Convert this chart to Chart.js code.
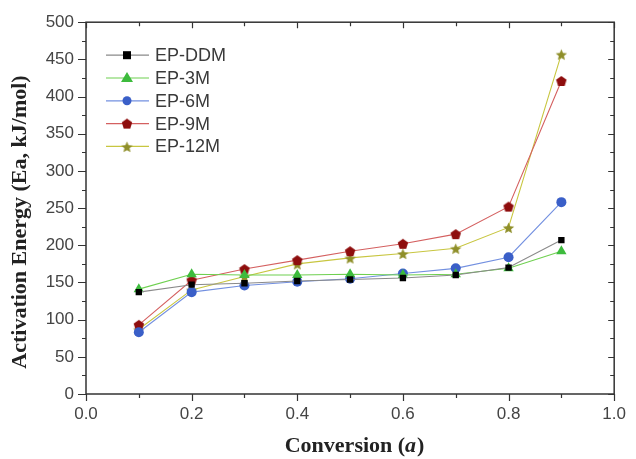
<!DOCTYPE html>
<html>
<head>
<meta charset="utf-8">
<script src="https://cdn.jsdelivr.net/npm/chart.js@4"></script>
<style>
  html, body { margin: 0; padding: 0; background: #fff; }
  #wrap { width: 636px; height: 459px; }
</style>
</head>
<body>
<div id="wrap"><canvas id="chart" width="636" height="459"></canvas></div>
<script>
// conversion values (x)
const conversion = [0.1, 0.2, 0.3, 0.4, 0.5, 0.6, 0.7, 0.8, 0.9];

// activation energy, kJ/mol
const epDDM = [137, 147, 149, 152, 154, 156, 160, 170, 207];
const ep3M  = [141, 161, 160, 160, 161, 160, 161, 169, 192];
const ep6M  = [83, 137, 146, 151, 155, 162, 169, 184, 258];
const ep9M  = [93, 153, 168, 180, 192, 202, 215, 252, 421];
const ep12M = [87, 140, 158, 175, 183, 189, 196, 224, 457];

const seriesNames = ["EP-DDM", "EP-3M", "EP-6M", "EP-9M", "EP-12M"];

const xTicks = [0.0, 0.2, 0.4, 0.6, 0.8, 1.0];
const yTicks = [0, 50, 100, 150, 200, 250, 300, 350, 400, 450, 500];

const yTitle = "Activation Energy (Ea, kJ/mol)";

// little canvases for the marker shapes chart.js doesn't have
function shapeCanvas(kind, color, size) {
    const c = document.createElement("canvas");
    c.width = size; c.height = size;
    const g = c.getContext("2d");
    const cx = size / 2, cy = size / 2, r = size / 2 - 0.5;
    g.fillStyle = color;
    g.beginPath();
    if (kind === "pentagon") {
        for (let i = 0; i < 5; i++) {
            const a = -Math.PI / 2 + i * 2 * Math.PI / 5;
            g.lineTo(cx + r * Math.cos(a), cy + 0.5 + r * Math.sin(a));
        }
    } else {
        for (let i = 0; i < 10; i++) {
            const a = -Math.PI / 2 + i * Math.PI / 5;
            const rr = i % 2 === 0 ? r : r * 0.45;
            g.lineTo(cx + rr * Math.cos(a), cy + 1 + rr * Math.sin(a));
        }
    }
    g.closePath();
    g.fill();
    return c;
}

const pentagon = shapeCanvas("pentagon", "#8e0d0d", 12);
const star = shapeCanvas("star", "#8f8f2a", 13);

function pts(vals) {
    return conversion.map((x, i) => ({ x: x, y: vals[i] }));
}

const datasets = [
    { label: seriesNames[0], data: pts(epDDM), borderColor: "#8a8a8a", backgroundColor: "#000000",
      pointStyle: "rect", pointRadius: 4.5 },
    { label: seriesNames[1], data: pts(ep3M), borderColor: "#6fd050", backgroundColor: "#3dbb3d",
      pointStyle: "triangle", pointRadius: 6 },
    { label: seriesNames[2], data: pts(ep6M), borderColor: "#7390e0", backgroundColor: "#3a5fc8",
      pointStyle: "circle", pointRadius: 5 },
    { label: seriesNames[3], data: pts(ep9M), borderColor: "#d46060", backgroundColor: "#8e0d0d",
      pointStyle: pentagon, pointRadius: 6 },
    { label: seriesNames[4], data: pts(ep12M), borderColor: "#c8c640", backgroundColor: "#8f8f2a",
      pointStyle: star, pointRadius: 6 }
];
datasets.forEach(d => {
    d.borderWidth = 1.1;
    d.pointBorderWidth = 0;
    d.pointBorderColor = d.backgroundColor;
    d.tension = 0;
});

// frame, inward ticks on top/right, minor ticks, legend, axis titles
const framePlugin = {
    id: "frame",
    afterDraw(chart) {
        const ctx = chart.ctx;
        const a = chart.chartArea;
        const xs = chart.scales.x, ys = chart.scales.y;
        ctx.save();
        ctx.strokeStyle = "#333";
        ctx.lineWidth = 1.5;
        ctx.strokeRect(a.left, a.top, a.right - a.left, a.bottom - a.top);
        ctx.lineWidth = 1.2;
        ctx.beginPath();
        for (let v = 0; v <= 1.0001; v += 0.1) {
            const px = Math.round(xs.getPixelForValue(v)) + 0.5;
            const major = Math.round(v * 10) % 2 === 0;
            ctx.moveTo(px, a.bottom); ctx.lineTo(px, a.bottom + (major ? 7 : 4));
            ctx.moveTo(px, a.top); ctx.lineTo(px, a.top + (major ? 6 : 4));
        }
        for (let v = 0; v <= 500; v += 25) {
            const py = Math.round(ys.getPixelForValue(v)) + 0.5;
            const major = v % 50 === 0;
            ctx.moveTo(a.left, py); ctx.lineTo(a.left - (major ? 8 : 4), py);
            ctx.moveTo(a.right, py); ctx.lineTo(a.right - (major ? 6 : 4), py);
        }
        ctx.stroke();

        // legend
        let ly = a.top + 33;
        chart.data.datasets.forEach(d => {
            const lx = a.left + 20;
            ctx.strokeStyle = d.borderColor;
            ctx.lineWidth = 1.2;
            ctx.beginPath();
            ctx.moveTo(lx, ly); ctx.lineTo(lx + 43, ly);
            ctx.stroke();
            const mx = lx + 21;
            ctx.fillStyle = d.backgroundColor;
            if (d.pointStyle === "rect") {
                ctx.fillRect(mx - 4, ly - 4, 8, 8);
            } else if (d.pointStyle === "triangle") {
                ctx.beginPath();
                ctx.moveTo(mx, ly - 6); ctx.lineTo(mx + 6, ly + 4); ctx.lineTo(mx - 6, ly + 4);
                ctx.closePath(); ctx.fill();
            } else if (d.pointStyle === "circle") {
                ctx.beginPath(); ctx.arc(mx, ly, 4.5, 0, Math.PI * 2); ctx.fill();
            } else {
                ctx.drawImage(d.pointStyle, mx - d.pointStyle.width / 2, ly - d.pointStyle.height / 2);
            }
            ctx.fillStyle = "#3a3a3a";
            ctx.font = "18px 'Liberation Sans', Arial, sans-serif";
            ctx.textBaseline = "middle";
            ctx.textAlign = "left";
            ctx.fillText(d.label, lx + 49, ly + 1);
            ly += 22.8;
        });

        // y axis title
        ctx.fillStyle = "#222";
        const fB = "bold 22px 'Liberation Serif', 'Times New Roman', serif";
        const fI = "bold italic 22px 'Liberation Serif', 'Times New Roman', serif";
        ctx.save();
        ctx.translate(20, 222);
        ctx.rotate(-Math.PI / 2);
        ctx.font = fB;
        ctx.textAlign = "center";
        ctx.textBaseline = "middle";
        ctx.fillText(yTitle, 0, 0);
        ctx.restore();

        // x axis title with italic a
        ctx.textBaseline = "alphabetic";
        const t1 = "Conversion (", t2 = "a", t3 = ")";
        ctx.font = fB; const w1 = ctx.measureText(t1).width, w3 = ctx.measureText(t3).width;
        ctx.font = fI; const w2 = ctx.measureText(t2).width;
        let tx = (a.left + a.right) / 2 + 4 - (w1 + w2 + w3) / 2;
        const ty = 452;
        ctx.textAlign = "left";
        ctx.font = fB; ctx.fillText(t1, tx, ty); tx += w1;
        ctx.font = fI; ctx.fillText(t2, tx, ty); tx += w2 + 1;
        ctx.font = fB; ctx.fillText(t3, tx, ty);
        ctx.restore();
    }
};

new Chart(document.getElementById("chart"), {
    type: "line",
    data: { datasets: datasets },
    options: {
        responsive: false,
        animation: false,
        layout: { padding: { top: 22, right: 13, bottom: 35, left: 0 } },
        plugins: { legend: { display: false }, tooltip: { enabled: false } },
        scales: {
            x: {
                type: "linear",
                min: 0, max: 1,
                afterBuildTicks: s => { s.ticks = xTicks.map(v => ({ value: v })); },
                afterFit: s => { s.height = 30; },
                grid: { display: false, drawTicks: false },
                border: { display: false },
                ticks: {
                    padding: 10,
                    color: "#444",
                    font: { family: "'Liberation Sans', Arial, sans-serif", size: 17 },
                    callback: v => v.toFixed(1)
                }
            },
            y: {
                min: 0, max: 500,
                afterBuildTicks: s => { s.ticks = yTicks.map(v => ({ value: v })); },
                afterFit: s => { s.width = 86; },
                grid: { display: false, drawTicks: false },
                border: { display: false },
                ticks: {
                    padding: 12,
                    color: "#444",
                    font: { family: "'Liberation Sans', Arial, sans-serif", size: 17 }
                }
            }
        }
    },
    plugins: [framePlugin]
});
</script>
</body>
</html>
